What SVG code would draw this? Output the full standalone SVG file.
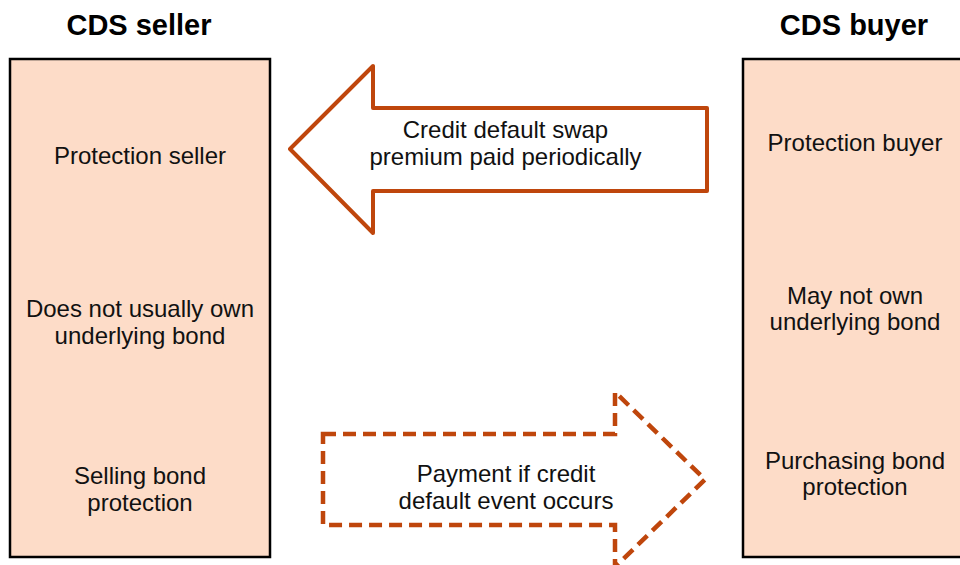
<svg xmlns="http://www.w3.org/2000/svg" width="960" height="565" viewBox="0 0 960 565">
  <style>
    .box { fill: #FDDCC8; stroke: #000000; stroke-width: 2.5; }
    .title { font-family: "Liberation Sans", Arial, sans-serif; font-size: 29px; font-weight: bold; fill: #000000; text-anchor: middle; }
    .label { font-family: "Liberation Sans", Arial, sans-serif; font-size: 24px; fill: #111111; text-anchor: middle; }
    .flow { fill: #FFFFFF; stroke: #BF460C; stroke-width: 4; stroke-linejoin: round; }
    .flow-dashed { fill: #FFFFFF; stroke: #BF460C; stroke-width: 4.5; stroke-dasharray: 13 7; stroke-linejoin: miter; }
  </style>
  <rect width="960" height="565" fill="#FFFFFF"/>

  <!-- Seller side -->
  <g id="seller">
    <text class="title" x="139" y="35">CDS seller</text>
    <rect class="box" x="10" y="59" width="260" height="498"/>
    <text class="label" x="140" y="164">Protection seller</text>
    <text class="label" x="140" y="316.5">Does not usually own</text>
    <text class="label" x="140" y="343.5">underlying bond</text>
    <text class="label" x="140" y="483.5">Selling bond</text>
    <text class="label" x="140" y="510.5">protection</text>
  </g>

  <!-- Buyer side -->
  <g id="buyer">
    <text class="title" x="854" y="35">CDS buyer</text>
    <rect class="box" x="743" y="59" width="230" height="498"/>
    <text class="label" x="855" y="151">Protection buyer</text>
    <text class="label" x="855" y="303.5">May not own</text>
    <text class="label" x="855" y="330">underlying bond</text>
    <text class="label" x="855" y="468.5">Purchasing bond</text>
    <text class="label" x="855" y="495">protection</text>
  </g>

  <!-- Flows between the parties -->
  <g id="connectors">
    <g id="premium-flow">
      <polygon class="flow" points="290,149 373,66 373,108 707,108 707,191 373,191 373,233"/>
      <text class="label" x="505.5" y="137.5">Credit default swap</text>
      <text class="label" x="505.5" y="165">premium paid periodically</text>
    </g>
    <g id="payment-flow">
      <polygon class="flow-dashed" points="323,434 615,434 615,392 705,479.5 615,567 615,525 323,525"/>
      <text class="label" x="506" y="481.5">Payment if credit</text>
      <text class="label" x="506" y="508.5">default event occurs</text>
    </g>
  </g>
</svg>
